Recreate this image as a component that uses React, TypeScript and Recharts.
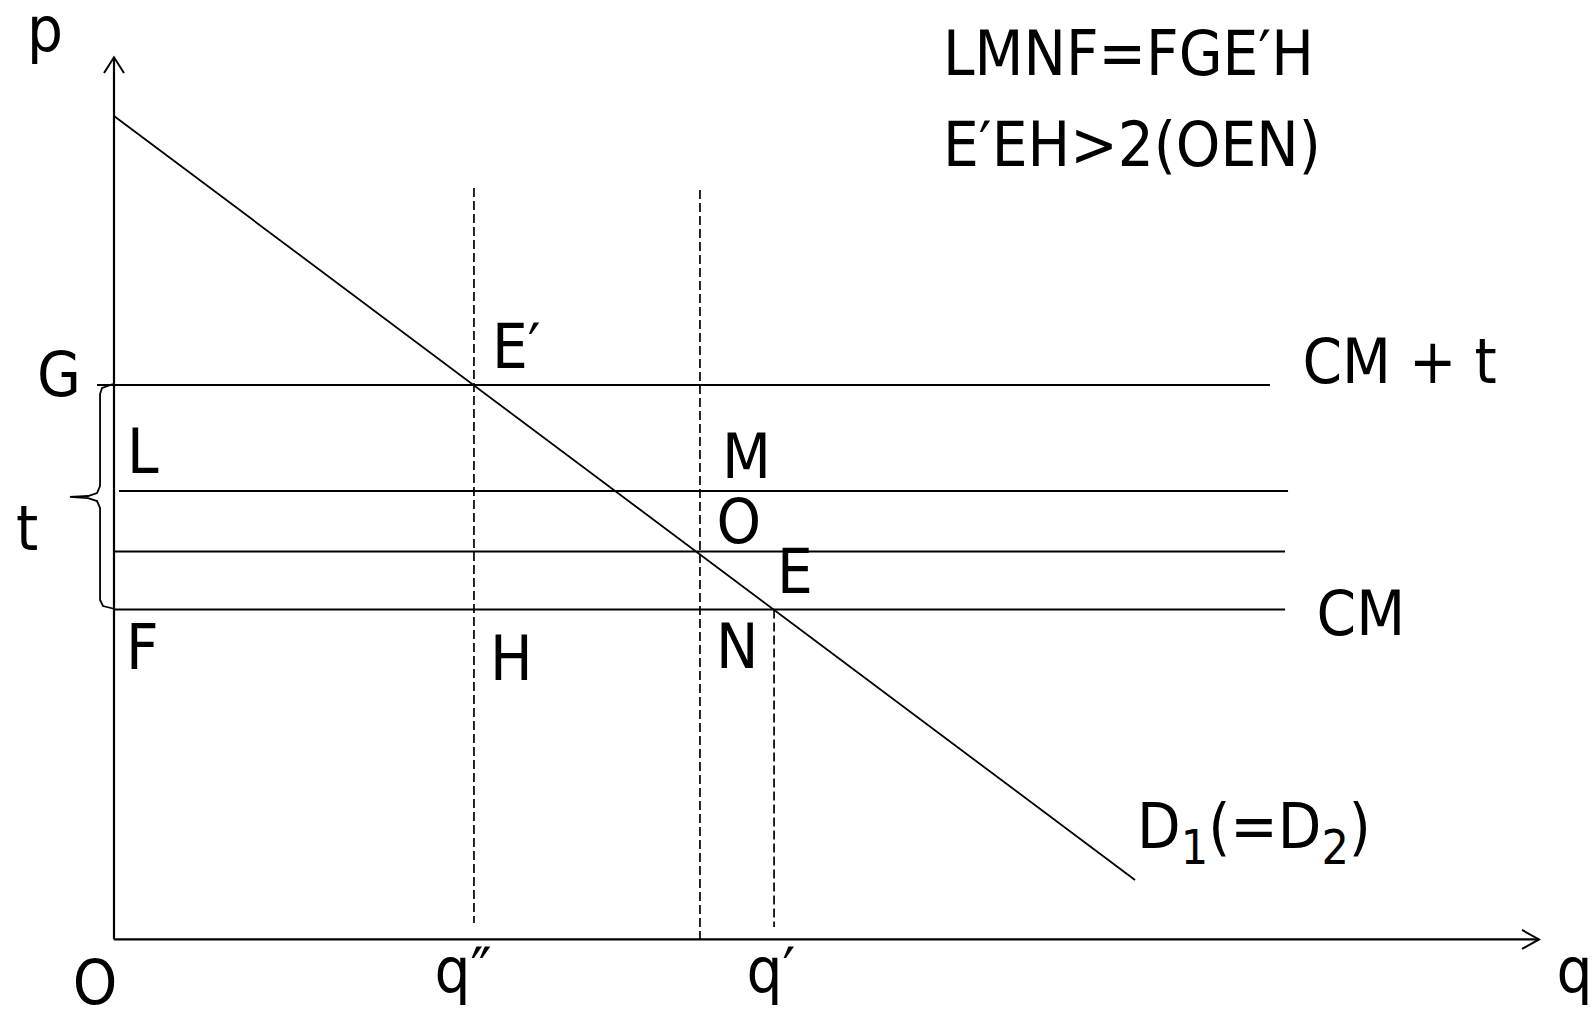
import { ComposedChart, Line, XAxis, YAxis, ReferenceDot } from 'recharts';

// price (p) / quantity (q) diagram, units are arbitrary
const demand = [
  { q: 0, p: 93.35 },
  { q: 71.65, p: 6.74 },
];
const cmPlusT = [
  { q: -1.19, p: 62.85 },
  { q: 81.12, p: 62.85 },
];
const lmLine = [
  { q: 0.35, p: 50.84 },
  { q: 82.39, p: 50.84 },
];
const oLine = [
  { q: 0, p: 43.98 },
  { q: 82.18, p: 43.98 },
];
const cmLine = [
  { q: 0, p: 37.4 },
  { q: 82.18, p: 37.4 },
];
const qDoublePrimeDrop = [
  { q: 25.26, p: 85.19 },
  { q: 25.26, p: 1.86 },
];
const qMidDrop = [
  { q: 41.12, p: 84.96 },
  { q: 41.12, p: 0 },
];
const qPrimeDrop = [
  { q: 46.32, p: 37.4 },
  { q: 46.32, p: 1.41 },
];
const pAxis = [
  { q: 0, p: 0 },
  { q: 0, p: 100 },
];
const qAxis = [
  { q: 0, p: 0 },
  { q: 100, p: 0 },
];
const pArrow = [
  { q: -0.7, p: 98.22 },
  { q: 0, p: 100 },
  { q: 0.7, p: 98.22 },
];
const qArrow = [
  { q: 98.81, p: 1.07 },
  { q: 100, p: 0 },
  { q: 98.81, p: -1.07 },
];
const tBrace = [
  { q: -0.07, p: 62.97 },
  { q: -0.84, p: 62.51 },
  { q: -0.98, p: 61.83 },
  { q: -0.98, p: 51.4 },
  { q: -1.19, p: 50.61 },
  { q: -1.82, p: 50.27 },
  { q: -3.09, p: 50.16 },
  { q: -1.82, p: 50.04 },
  { q: -1.19, p: 49.7 },
  { q: -0.98, p: 48.91 },
  { q: -0.98, p: 38.48 },
  { q: -0.77, p: 37.8 },
  { q: 0.07, p: 37.46 },
];

const labels = [
  { text: 'p', q: -6.1, p: 100.7 },
  { text: 'LMNF=FGE\u2032H', q: 58.18, p: 98.0 },
  { text: 'E\u2032EH>2(OEN)', q: 58.18, p: 87.68 },
  { text: 'E\u2032', q: 26.53, p: 64.78 },
  { text: 'G', q: -5.4, p: 61.6 },
  { text: 'CM + t', q: 83.4, p: 63.08 },
  { text: 'L', q: 0.91, p: 52.88 },
  { text: 'M', q: 42.67, p: 52.31 },
  { text: 't', q: -6.88, p: 44.15 },
  { text: 'O', q: 42.28, p: 44.94 },
  { text: 'E', q: 46.53, p: 39.27 },
  { text: 'CM', q: 84.39, p: 34.51 },
  { text: 'F', q: 0.84, p: 30.66 },
  { text: 'H', q: 26.39, p: 29.41 },
  { text: 'N', q: 42.25, p: 30.77 },
  { text: 'O', q: -2.9, p: -7.3 },
  { text: 'q\u2033', q: 22.49, p: -5.96 },
  { text: 'q\u2032', q: 44.39, p: -5.96 },
  { text: 'q', q: 101.23, p: -5.96 },
];
const demandLabel = { q: 71.79, p: 10.4 };

const FONT = "'DejaVu Sans Condensed', 'DejaVu Sans', sans-serif";
const FS = 63;

const solid = (data: { q: number; p: number }[], key: string, w = 2) => (
  <Line
    key={key}
    data={data}
    dataKey="p"
    type="linear"
    stroke="#000"
    strokeWidth={w}
    dot={false}
    activeDot={false}
    isAnimationActive={false}
  />
);

const dashed = (data: { q: number; p: number }[], key: string) => (
  <Line
    key={key}
    data={data}
    dataKey="p"
    type="linear"
    stroke="#000"
    strokeWidth={1.7}
    strokeDasharray="9 4"
    dot={false}
    activeDot={false}
    isAnimationActive={false}
  />
);

const App = () => {
  return (
    <div style={{ position: 'absolute', left: 0, top: 0, width: 1596, height: 1010, background: '#fff' }}>
      <ComposedChart width={1596} height={1010} margin={{ top: 0, right: 0, bottom: 0, left: 0 }}>
        <XAxis type="number" dataKey="q" domain={[-8, 104]} allowDataOverflow hide />
        <YAxis type="number" dataKey="p" domain={[-8, 106.5]} allowDataOverflow hide />

        {solid(pAxis, 'pAxis', 2.2)}
        {solid(qAxis, 'qAxis', 2.2)}
        {solid(pArrow, 'pArrow', 2)}
        {solid(qArrow, 'qArrow', 2)}
        {solid(demand, 'demand', 1.8)}
        {solid(cmPlusT, 'cmPlusT')}
        {solid(lmLine, 'lmLine')}
        {solid(oLine, 'oLine')}
        {solid(cmLine, 'cmLine')}
        {solid(tBrace, 'tBrace', 1.8)}
        {dashed(qDoublePrimeDrop, 'qdp')}
        {dashed(qMidDrop, 'qmid')}
        {dashed(qPrimeDrop, 'qp')}

        {labels.map((l, i) => (
          <ReferenceDot
            key={`lbl-${i}`}
            x={l.q}
            y={l.p}
            r={0}
            ifOverflow="visible"
            shape={(props: any) => (
              <text x={props.cx} y={props.cy} fontFamily={FONT} fontStretch="condensed" fontSize={FS} fill="#000">
                {l.text}
              </text>
            )}
          />
        ))}
        <ReferenceDot
          x={demandLabel.q}
          y={demandLabel.p}
          r={0}
          ifOverflow="visible"
          shape={(props: any) => (
            <text x={props.cx} y={props.cy} fontFamily={FONT} fontStretch="condensed" fontSize={FS} fill="#000">
              D
              <tspan fontSize={48} dy={16}>1</tspan>
              <tspan dy={-16}>(=D</tspan>
              <tspan fontSize={48} dy={16}>2</tspan>
              <tspan dy={-16}>)</tspan>
            </text>
          )}
        />
      </ComposedChart>
    </div>
  );
};

export default App;
